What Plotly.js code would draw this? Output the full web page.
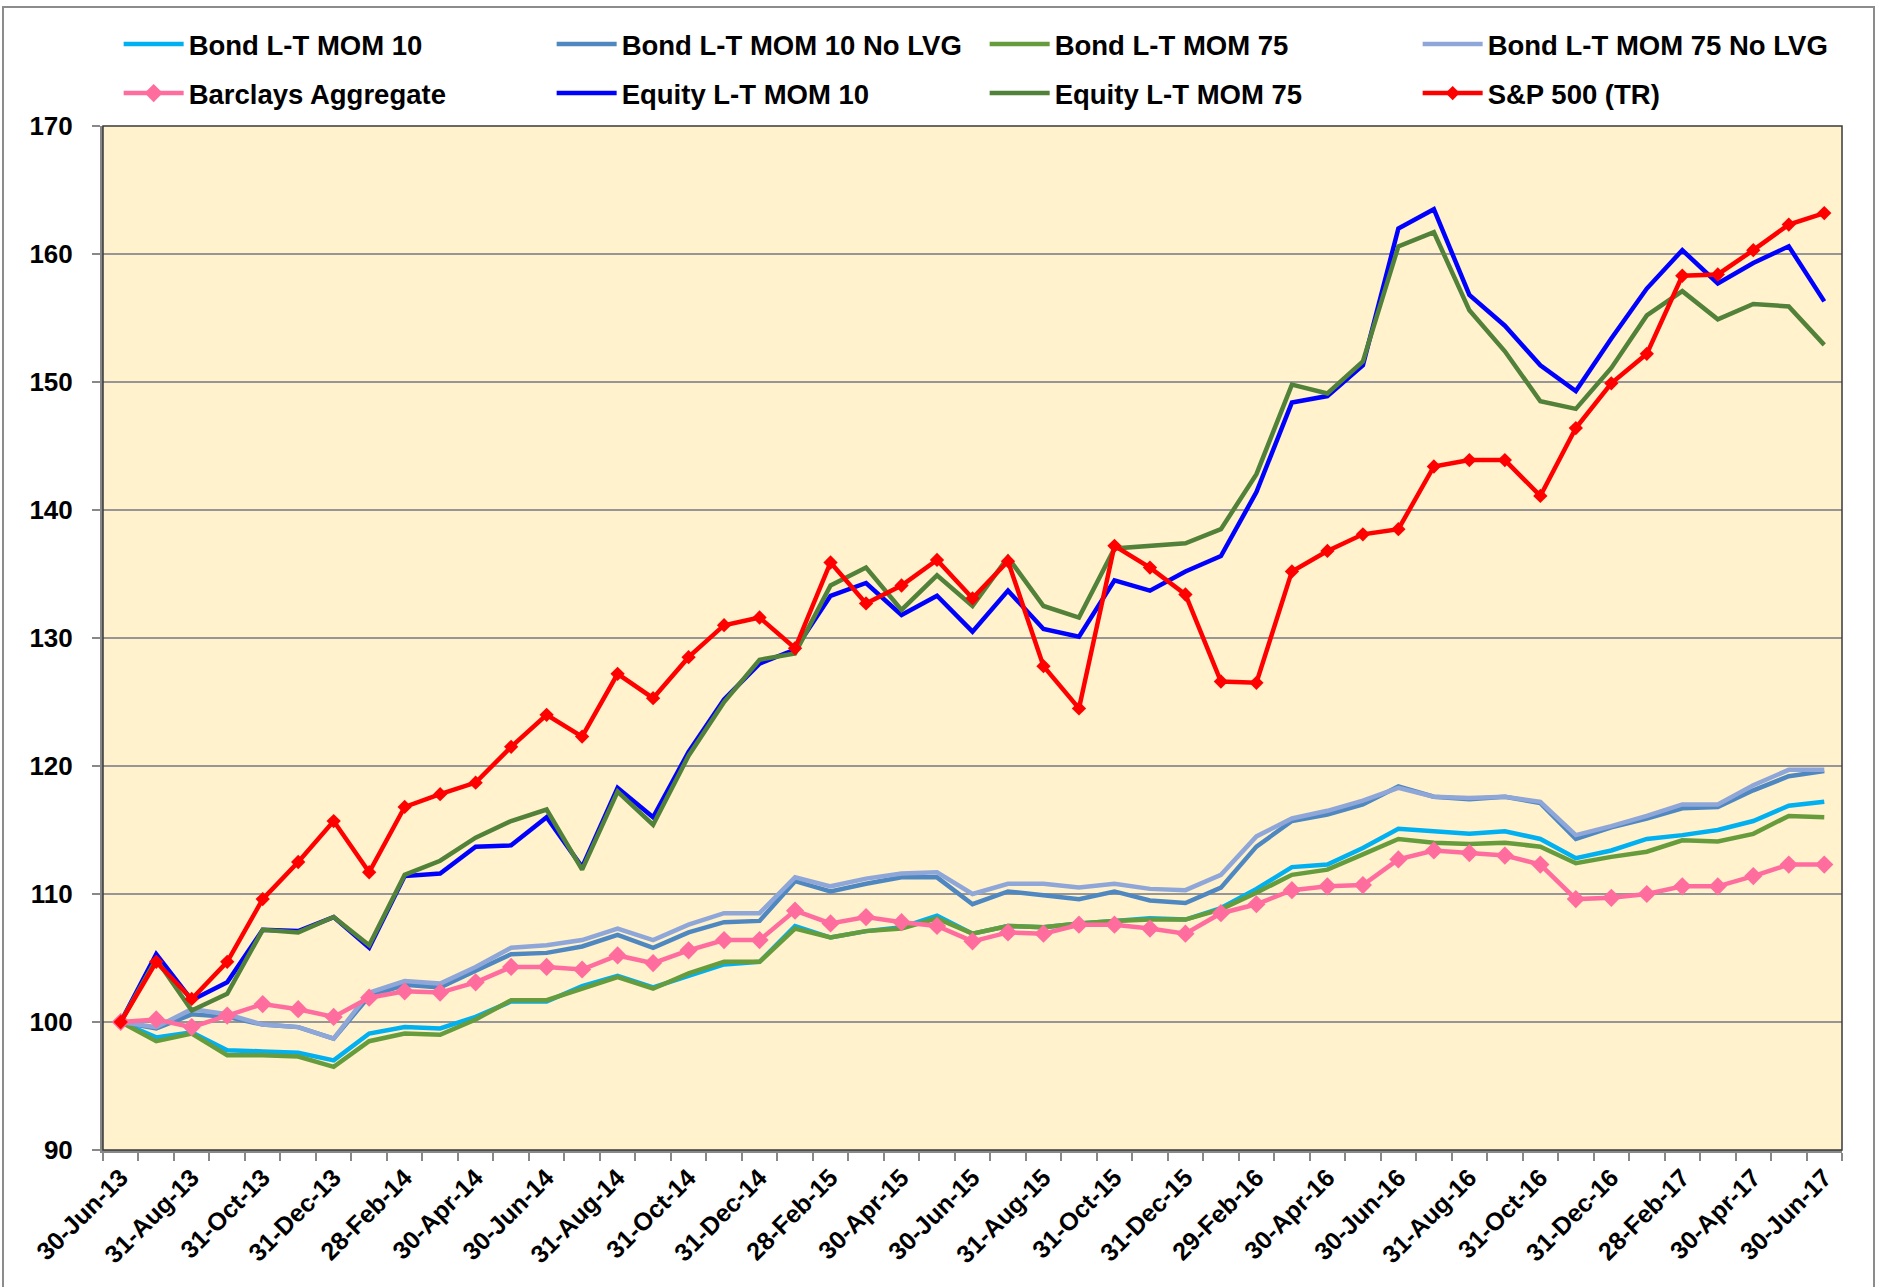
<!DOCTYPE html>
<html>
<head>
<meta charset="utf-8">
<script src="https://cdn.plot.ly/plotly-3.0.1.min.js"></script>
<style>
  html, body { margin: 0; padding: 0; background: #ffffff; }
  #wrap { position: relative; width: 1878px; height: 1287px; overflow: hidden; }
  #chart { position: absolute; left: 0; top: 0; width: 1878px; height: 1287px; }
  #frame { position: absolute; left: 2px; top: 6px; width: 1869px; height: 1300px;
           border: 2px solid #8c8c8c; pointer-events: none; }
</style>
</head>
<body>
<div id="wrap">
  <div id="chart"></div>
  <div id="frame"></div>
</div>
<script>
const dates = [
  "30-Jun-13","31-Jul-13","31-Aug-13","30-Sep-13","31-Oct-13","30-Nov-13","31-Dec-13",
  "31-Jan-14","28-Feb-14","31-Mar-14","30-Apr-14","31-May-14","30-Jun-14","31-Jul-14",
  "31-Aug-14","30-Sep-14","31-Oct-14","30-Nov-14","31-Dec-14","31-Jan-15","28-Feb-15",
  "31-Mar-15","30-Apr-15","31-May-15","30-Jun-15","31-Jul-15","31-Aug-15","30-Sep-15",
  "31-Oct-15","30-Nov-15","31-Dec-15","31-Jan-16","29-Feb-16","31-Mar-16","30-Apr-16",
  "31-May-16","30-Jun-16","31-Jul-16","31-Aug-16","30-Sep-16","31-Oct-16","30-Nov-16",
  "31-Dec-16","31-Jan-17","28-Feb-17","31-Mar-17","30-Apr-17","31-May-17","30-Jun-17"
];

const bondMom10 = [100, 98.8, 99.2, 97.8, 97.7, 97.6, 97.0, 99.1, 99.6, 99.5, 100.4, 101.6, 101.6, 102.8, 103.6, 102.7, 103.6,
  104.5, 104.7, 107.5, 106.6, 107.1, 107.4, 108.3, 106.9, 107.5, 107.4, 107.7, 107.9, 108.1, 108.0, 108.9,
  110.4, 112.1, 112.3, 113.6, 115.1, 114.9, 114.7, 114.9, 114.3, 112.8, 113.4, 114.3, 114.6, 115.0, 115.7, 116.9, 117.2];

const bondMom10NoLvg = [100, 99.5, 100.6, 100.4, 99.8, 99.6, 98.7, 102.0, 102.9, 102.7, 104.0, 105.3, 105.4, 105.9, 106.8, 105.8, 107.0,
  107.8, 107.9, 111.0, 110.2, 110.8, 111.3, 111.3, 109.2, 110.2, 109.9, 109.6, 110.2, 109.5, 109.3, 110.5,
  113.7, 115.7, 116.2, 117.0, 118.4, 117.6, 117.4, 117.6, 117.1, 114.3, 115.2, 115.9, 116.7, 116.8, 118.1, 119.2, 119.6];

const bondMom75 = [100, 98.5, 99.1, 97.4, 97.4, 97.3, 96.5, 98.5, 99.1, 99.0, 100.2, 101.7, 101.7, 102.6, 103.5, 102.6, 103.8,
  104.7, 104.7, 107.3, 106.6, 107.1, 107.3, 108.1, 106.9, 107.5, 107.4, 107.7, 107.9, 108.0, 108.0, 108.8,
  110.1, 111.5, 111.9, 113.1, 114.3, 114.0, 113.9, 114.0, 113.7, 112.4, 112.9, 113.3, 114.2, 114.1, 114.7, 116.1, 116.0];

const bondMom75NoLvg = [100, 99.6, 101.0, 100.6, 99.8, 99.6, 98.7, 102.3, 103.2, 103.0, 104.3, 105.8, 106.0, 106.4, 107.3, 106.4, 107.6,
  108.5, 108.5, 111.3, 110.6, 111.2, 111.6, 111.7, 110.0, 110.8, 110.8, 110.5, 110.8, 110.4, 110.3, 111.5,
  114.5, 115.9, 116.5, 117.3, 118.3, 117.6, 117.5, 117.6, 117.2, 114.6, 115.3, 116.1, 117.0, 117.0, 118.5, 119.7, 119.7];

const barclaysAgg = [100, 100.2, 99.6, 100.5, 101.4, 101.0, 100.4, 101.9, 102.4, 102.3, 103.1, 104.3, 104.3, 104.1, 105.2, 104.6, 105.6,
  106.4, 106.4, 108.7, 107.7, 108.2, 107.8, 107.5, 106.3, 107.0, 106.9, 107.6, 107.6, 107.3, 106.9, 108.5,
  109.2, 110.3, 110.6, 110.7, 112.7, 113.4, 113.2, 113.0, 112.3, 109.6, 109.7, 110.0, 110.6, 110.6, 111.4, 112.3, 112.3];

const equityMom10 = [100, 105.3, 101.7, 103.1, 107.2, 107.1, 108.2, 105.8, 111.4, 111.6, 113.7, 113.8, 116.0, 112.1, 118.3, 116.0, 121.1,
  125.2, 128.0, 129.1, 133.3, 134.3, 131.8, 133.3, 130.5, 133.7, 130.7, 130.1, 134.5, 133.7, 135.2, 136.4,
  141.4, 148.4, 148.9, 151.3, 162.0, 163.5, 156.8, 154.4, 151.3, 149.3, 153.4, 157.3, 160.3, 157.7, 159.3, 160.6, 156.3];

const equityMom75 = [100, 104.9, 100.9, 102.2, 107.2, 107.0, 108.2, 106.0, 111.5, 112.6, 114.4, 115.7, 116.6, 111.9, 118.0, 115.4, 120.8,
  125.0, 128.3, 128.8, 134.1, 135.5, 132.2, 134.9, 132.5, 136.3, 132.5, 131.6, 137.0, 137.2, 137.4, 138.5,
  142.8, 149.8, 149.1, 151.6, 160.6, 161.7, 155.6, 152.4, 148.5, 147.9, 151.1, 155.2, 157.1, 154.9, 156.1, 155.9, 152.9];

const sp500TR = [100, 104.7, 101.8, 104.7, 109.6, 112.5, 115.7, 111.7, 116.8, 117.8, 118.7, 121.5, 124.0, 122.3, 127.2, 125.3, 128.5,
  131.0, 131.6, 129.2, 135.9, 132.7, 134.1, 136.1, 133.1, 136.0, 127.8, 124.5, 137.2, 135.5, 133.4, 126.6,
  126.5, 135.2, 136.8, 138.1, 138.5, 143.4, 143.9, 143.9, 141.1, 146.4, 149.9, 152.2, 158.3, 158.4, 160.3, 162.3, 163.2];

const seriesNames = ["Bond L-T MOM 10", "Bond L-T MOM 10 No LVG", "Bond L-T MOM 75", "Bond L-T MOM 75 No LVG",
  "Barclays Aggregate", "Equity L-T MOM 10", "Equity L-T MOM 75", "S&P 500 (TR)"];

const tickText = dates.map((d, i) => (i % 2 === 0 ? d : ""));

const FONT = "Liberation Sans, Arial, Helvetica, sans-serif";

function lineTrace(name, y, color, legend, marker) {
  const t = {
    type: "scatter",
    x: dates,
    y: y,
    name: name,
    legend: legend,
    mode: marker ? "lines+markers" : "lines",
    line: { color: color, width: 4.5 },
    hoverinfo: "x+y+name"
  };
  if (marker) t.marker = { symbol: "diamond", size: marker, color: color };
  return t;
}

const traces = [
  lineTrace(seriesNames[0], bondMom10, "#00B0F0", "legend"),
  lineTrace(seriesNames[1], bondMom10NoLvg, "#4F88C0", "legend"),
  lineTrace(seriesNames[2], bondMom75, "#679C3D", "legend"),
  lineTrace(seriesNames[3], bondMom75NoLvg, "#8EA6D8", "legend"),
  lineTrace(seriesNames[4], barclaysAgg, "#FF6D9F", "legend2", 14),
  lineTrace(seriesNames[5], equityMom10, "#0000FF", "legend2"),
  lineTrace(seriesNames[6], equityMom75, "#52813A", "legend2"),
  lineTrace(seriesNames[7], sp500TR, "#FF0000", "legend2", 11)
];

const legendCommon = {
  orientation: "h",
  xanchor: "left",
  yanchor: "middle",
  x: 0.009,
  entrywidth: 358,
  entrywidthmode: "pixels",
  itemwidth: 60,
  bgcolor: "rgba(0,0,0,0)",
  font: { family: FONT, size: 27.5, color: "#000000", weight: "bold" }
};

const layout = {
  width: 1878,
  height: 1287,
  margin: { l: 103, r: 36, t: 126, b: 137, autoexpand: false },
  paper_bgcolor: "#ffffff",
  plot_bgcolor: "#FFF2CC",
  showlegend: true,
  legend: Object.assign({}, legendCommon, { y: 1.080 }),
  legend2: Object.assign({}, legendCommon, { y: 1.032 }),
  xaxis: {
    type: "category",
    categoryorder: "array",
    categoryarray: dates,
    range: [-0.5, dates.length - 0.5],
    autorange: false,
    tickmode: "array",
    tickvals: dates,
    ticktext: tickText,
    tickson: "boundaries",
    ticks: "outside",
    ticklen: 8,
    tickwidth: 2,
    tickcolor: "#888888",
    tickangle: -45,
    tickfont: { family: FONT, size: 25, color: "#000000", weight: "bold" },
    showgrid: false,
    showline: true,
    linecolor: "#888888",
    linewidth: 3,
    zeroline: false
  },
  yaxis: {
    range: [90, 170],
    autorange: false,
    tickmode: "linear",
    tick0: 90,
    dtick: 10,
    ticks: "outside",
    ticklen: 8,
    tickwidth: 2,
    tickcolor: "#888888",
    ticklabelstandoff: 14,
    tickfont: { family: FONT, size: 26, color: "#000000", weight: "bold" },
    showgrid: true,
    gridcolor: "#969696",
    gridwidth: 2,
    showline: true,
    linecolor: "#888888",
    linewidth: 3,
    zeroline: false
  },
  shapes: [
    { type: "rect", xref: "paper", yref: "paper", x0: 0, x1: 1, y0: 0, y1: 1,
      line: { color: "#3a3a3a", width: 1.5 }, layer: "above" }
  ]
};

Plotly.newPlot("chart", traces, layout, { displayModeBar: false, staticPlot: true });
</script>
</body>
</html>
